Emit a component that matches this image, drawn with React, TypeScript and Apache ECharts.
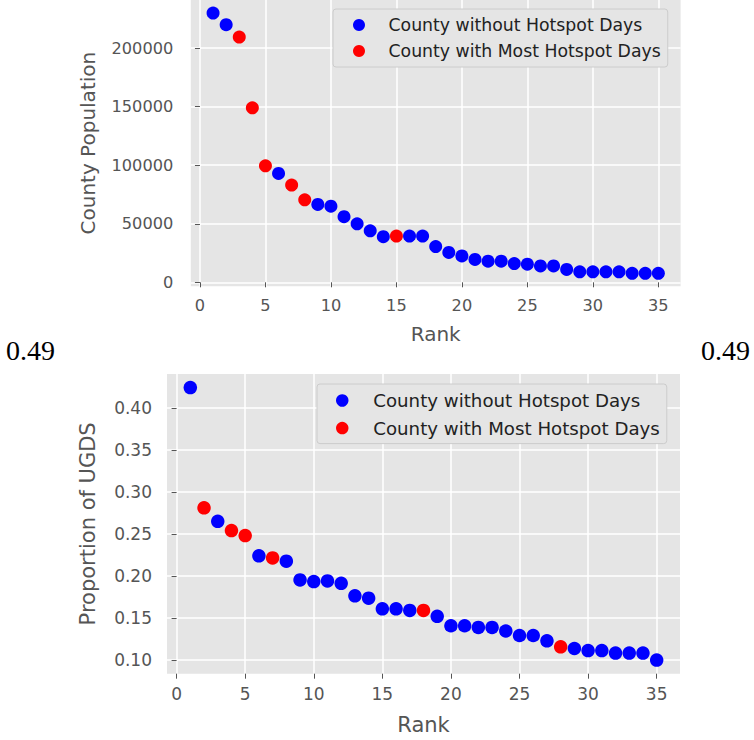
import React, { useEffect, useRef } from "react";
import * as echarts from "echarts";

// ---- data ----
const ranks = [1, 2, 3, 4, 5, 6, 7, 8, 9, 10, 11, 12, 13, 14, 15, 16, 17, 18, 19, 20, 21, 22, 23, 24, 25, 26, 27, 28, 29, 30, 31, 32, 33, 34, 35];
const population = [230000, 220000, 209500, 149000, 99500, 93000, 83000, 70500, 66500, 65000, 56000, 50000, 44000, 39000, 39500, 39500, 39500, 30500, 25500, 22500, 19500, 18000, 18000, 16000, 15500, 14000, 14000, 11000, 9000, 9000, 9000, 9000, 7700, 7700, 7700];
const populationHotspotRanks = [3, 4, 5, 7, 8, 15];
const ugdsProportion = [0.424, 0.281, 0.265, 0.254, 0.248, 0.224, 0.2215, 0.2176, 0.1953, 0.1933, 0.1941, 0.1913, 0.1764, 0.1736, 0.161, 0.161, 0.159, 0.159, 0.152, 0.1408, 0.1408, 0.1388, 0.1388, 0.1346, 0.1292, 0.1292, 0.1229, 0.1158, 0.1138, 0.1113, 0.1113, 0.1083, 0.1083, 0.1083, 0.1];
const ugdsHotspotRanks = [2, 4, 5, 7, 18, 28];
const rankTicks = [0, 5, 10, 15, 20, 25, 30, 35];
const populationTicks = [0, 50000, 100000, 150000, 200000];
const ugdsTicks = [0.1, 0.15, 0.2, 0.25, 0.3, 0.35, 0.4];
const sideLabel = "0.49";

const NO_HOT = "County without Hotspot Days";
const HOT = "County with Most Hotspot Days";
const FONT = "DejaVu Sans";
const GREY = "#555555";

function padded(values: number[]): [number, number] {
  const lo = Math.min(...values);
  const hi = Math.max(...values);
  const m = (hi - lo) * 0.05;
  return [lo - m, hi + m];
}

function xAxisCfg(gridIndex: number, fontSize: number, nameSize: number, nameGap: number, margin: number) {
  const [mn, mx] = padded(ranks);
  return {
    type: "value",
    gridIndex,
    min: mn,
    max: mx,
    minInterval: 5,
    maxInterval: 5,
    name: "Rank",
    nameLocation: "middle",
    nameGap,
    nameTextStyle: { fontSize: nameSize, color: GREY, fontFamily: FONT },
    axisLine: { show: false },
    axisTick: { show: true, length: 5, lineStyle: { color: GREY, width: 1 }, customValues: rankTicks },
    axisLabel: { customValues: rankTicks, fontSize, color: GREY, fontFamily: FONT, margin, formatter: (v: number) => String(v) },
    splitLine: { show: true, lineStyle: { color: "#ffffff", width: 1.5 } },
  };
}

function yAxisCfg(gridIndex: number, name: string, values: number[], ticks: number[], step: number, fmt: (v: number) => string, fontSize: number, nameSize: number, nameGap: number, margin: number) {
  const [mn, mx] = padded(values);
  return {
    type: "value",
    gridIndex,
    min: mn,
    max: mx,
    minInterval: step,
    maxInterval: step,
    name,
    nameLocation: "middle",
    nameGap,
    nameTextStyle: { fontSize: nameSize, color: GREY, fontFamily: FONT },
    axisLine: { show: false },
    axisTick: { show: true, length: 5, lineStyle: { color: GREY, width: 1 }, customValues: ticks },
    axisLabel: { customValues: ticks, fontSize, color: GREY, fontFamily: FONT, margin, formatter: fmt },
    splitLine: { show: true, lineStyle: { color: "#ffffff", width: 1.5 } },
  };
}

function split(values: number[], hot: number[]) {
  const cold: number[][] = [];
  const warm: number[][] = [];
  ranks.forEach((r, i) => {
    if (hot.includes(r)) warm.push([r, values[i]]);
    else cold.push([r, values[i]]);
  });
  return { cold, warm };
}

export default function App() {
  const ref = useRef<HTMLDivElement>(null);
  useEffect(() => {
    document.body.style.margin = "0";
    if (!ref.current) return;
    const chart = echarts.init(ref.current, undefined, { renderer: "svg" });
    const pop = split(population, populationHotspotRanks);
    const ugds = split(ugdsProportion, ugdsHotspotRanks);
    const legendBase = {
      orient: "vertical",
      icon: "circle",
      backgroundColor: "#E5E5E5",
      borderColor: "#CCCCCC",
      borderWidth: 1,
      borderRadius: 3,
      data: [NO_HOT, HOT],
    };
    chart.setOption({
      animation: false,
      grid: [
        { left: 190.8, right: 73.4, top: 0, height: 286.3, show: true, backgroundColor: "#E5E5E5", borderWidth: 0 },
        { left: 167, right: 74, top: 374, height: 299.7, show: true, backgroundColor: "#E5E5E5", borderWidth: 0 },
      ],
      xAxis: [xAxisCfg(0, 16.2, 20, 37.5, 11), xAxisCfg(1, 17, 21, 40.5, 11.5)],
      yAxis: [
        yAxisCfg(0, "County Population", population, populationTicks, 50000, (v: number) => String(Math.round(v)), 16.2, 20, 92.5, 17.5),
        yAxisCfg(1, "Proportion of UGDS", ugdsProportion, ugdsTicks, 0.05, (v: number) => v.toFixed(2), 17, 21, 69, 15),
      ],
      legend: [
        {
          ...legendBase,
          left: 333,
          top: 9,
          itemWidth: 49,
          itemHeight: 12,
          itemGap: 6,
          padding: [6, 7, 6, 20],
          textStyle: { fontSize: 17.3, color: "#222222", fontFamily: FONT, lineHeight: 20 },
        },
        {
          ...legendBase,
          left: 317,
          top: 384,
          itemWidth: 52,
          itemHeight: 12.5,
          itemGap: 6.6,
          padding: [6, 7, 5, 19],
          textStyle: { fontSize: 18.2, color: "#222222", fontFamily: FONT, lineHeight: 21 },
        },
      ],
      graphic: [
        { type: "text", x: 6, y: 350.5, style: { text: sideLabel, fontSize: 28, fontFamily: "Liberation Serif", fill: "#000000", textAlign: "left", textVerticalAlign: "middle" } },
        { type: "text", x: 750, y: 350.5, style: { text: sideLabel, fontSize: 28, fontFamily: "Liberation Serif", fill: "#000000", textAlign: "right", textVerticalAlign: "middle" } },
      ],
      series: [
        { type: "scatter", name: NO_HOT, xAxisIndex: 0, yAxisIndex: 0, data: pop.cold, symbolSize: 13, itemStyle: { color: "#0000FF", opacity: 1 } },
        { type: "scatter", name: HOT, xAxisIndex: 0, yAxisIndex: 0, data: pop.warm, symbolSize: 13, itemStyle: { color: "#FF0000", opacity: 1 } },
        { type: "scatter", name: NO_HOT, xAxisIndex: 1, yAxisIndex: 1, data: ugds.cold, symbolSize: 13.5, itemStyle: { color: "#0000FF", opacity: 1 } },
        { type: "scatter", name: HOT, xAxisIndex: 1, yAxisIndex: 1, data: ugds.warm, symbolSize: 13.5, itemStyle: { color: "#FF0000", opacity: 1 } },
      ],
    });
    return () => chart.dispose();
  }, []);
  return <div ref={ref} style={{ width: 754, height: 740 }} />;
}
